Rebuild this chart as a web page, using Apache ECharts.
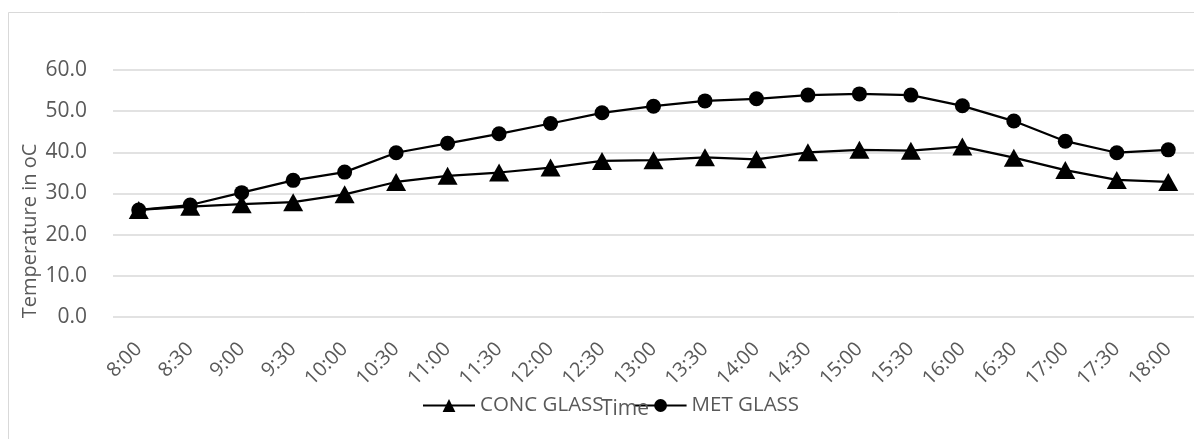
<!DOCTYPE html>
<html>
<head>
<meta charset="utf-8">
<title>Temperature over the day</title>
<script src="https://cdn.jsdelivr.net/npm/echarts@6/dist/echarts.min.js"></script>
<style>
  html, body { margin: 0; padding: 0; background: #fff; }
  #chart { width: 1194px; height: 439px; }
</style>
</head>
<body>
<div id="chart"></div>
<script>
// Half-hourly readings, 8:00 to 18:00
const times = ['8:00', '8:30', '9:00', '9:30', '10:00', '10:30', '11:00', '11:30', '12:00', '12:30',
  '13:00', '13:30', '14:00', '14:30', '15:00', '15:30', '16:00', '16:30', '17:00', '17:30', '18:00'];

const concGlass = [26.0, 26.8, 27.4, 27.9, 29.8, 32.8, 34.3, 35.1, 36.3, 37.9,
  38.1, 38.8, 38.3, 40.0, 40.6, 40.4, 41.4, 38.7, 35.7, 33.3, 32.8];

const metGlass = [26.0, 27.2, 30.2, 33.2, 35.2, 39.9, 42.2, 44.5, 47.0, 49.6,
  51.2, 52.5, 53.0, 53.9, 54.2, 53.9, 51.3, 47.6, 42.7, 39.9, 40.6];

const yTicks = [0, 10, 20, 30, 40, 50, 60];

const FONT = '"Open Sans", "Noto Sans", sans-serif';
const GREY = '#595959';

const chart = echarts.init(document.getElementById('chart'), null, { renderer: 'canvas' });

chart.setOption({
  animation: false,
  backgroundColor: '#ffffff',
  textStyle: { fontFamily: FONT },
  grid: { left: 113, right: 0, top: 70, bottom: 122, containLabel: false },
  graphic: [
    {
      type: 'rect',
      shape: { x: 8.5, y: 12.5, width: 1200, height: 440 },
      style: { fill: 'none', stroke: '#d9d9d9', lineWidth: 1 },
      silent: true
    },
    {
      type: 'text',
      x: 30, y: 231,
      rotation: Math.PI / 2,
      style: {
        text: 'Temperature in oC',
        fill: GREY, font: '20px ' + FONT,
        align: 'center', verticalAlign: 'middle'
      }
    },
    {
      type: 'text',
      x: 625, y: 409,
      z: 10,
      style: {
        text: 'Time',
        fill: GREY, font: '21px ' + FONT,
        align: 'center', verticalAlign: 'middle'
      }
    }
  ],
  legend: {
    top: 395,
    left: 422,
    padding: 0,
    itemWidth: 52,
    itemHeight: 16,
    itemGap: 30,
    textStyle: { color: GREY, fontSize: 20.5, fontFamily: FONT },
    data: ['CONC GLASS', 'MET GLASS']
  },
  xAxis: {
    type: 'category',
    data: times,
    boundaryGap: true,
    axisLine: { show: false },
    axisTick: { show: false },
    axisLabel: {
      rotate: 45,
      margin: 29,
      color: GREY,
      fontSize: 20,
      fontFamily: FONT,
      interval: 0
    }
  },
  yAxis: {
    type: 'value',
    min: yTicks[0],
    max: yTicks[yTicks.length - 1],
    interval: 10,
    axisLine: { show: false },
    axisTick: { show: false },
    axisLabel: {
      color: GREY,
      fontSize: 21,
      fontFamily: FONT,
      margin: 26,
      formatter: v => v.toFixed(1)
    },
    splitLine: { lineStyle: { color: '#d9d9d9', width: 1.5 } }
  },
  series: [
    {
      name: 'CONC GLASS',
      type: 'line',
      data: concGlass,
      symbol: 'triangle',
      symbolSize: [20, 18],
      showAllSymbol: true,
      lineStyle: { color: '#000', width: 2.25 },
      itemStyle: { color: '#000' },
      z: 3
    },
    {
      name: 'MET GLASS',
      type: 'line',
      data: metGlass,
      symbol: 'circle',
      symbolSize: 15,
      showAllSymbol: true,
      lineStyle: { color: '#000', width: 2.25 },
      itemStyle: { color: '#000' },
      z: 2
    }
  ]
});
</script>
</body>
</html>
